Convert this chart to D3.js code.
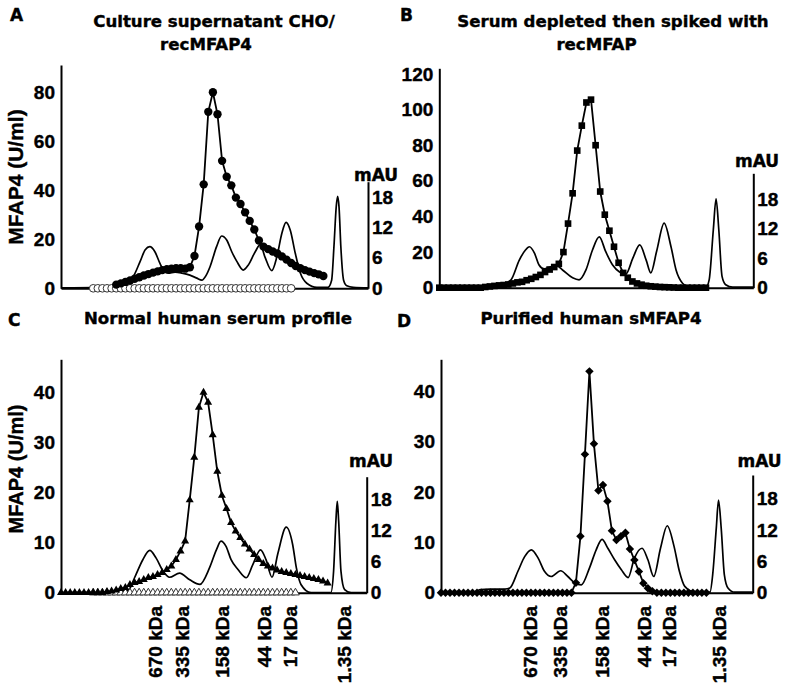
<!DOCTYPE html>
<html><head><meta charset="utf-8">
<script src="https://cdn.jsdelivr.net/npm/d3@7"></script>
<style>
body{margin:0;background:#fff}
svg text{fill:#000;stroke:#000;stroke-width:0.4px}
.ar{font-family:"Liberation Sans",Arial,Helvetica,sans-serif;font-weight:700}
.wd{font-family:"DejaVu Sans",Verdana,sans-serif;font-weight:700}
</style>
</head><body>
<svg id="chart" width="789" height="693"></svg>
<script>
// ---------------- DATA ----------------
// fraction number where each marker series starts (consecutive fractions)
const mfapAStart = 12;
const mfapA = [1.5,2.0,2.6,3.2,3.9,4.5,5.2,5.8,6.4,6.9,7.4,7.8,8.0,8.2,8.2,8.0,8.6,13.2,25.2,42.4,72,80,71,52,45.5,42,37,34.4,31,27.5,24,19.5,17,16,15,14.2,13,11.7,10.3,9.1,8.2,7.4,6.8,6.2,5.7,5.0];
const ctrlAStart = 7;
const ctrlA = [0,0,0,0,0,0,0,0,0,0,0,0,0,0,0,0,0,0,0,0,0,0,0,0,0,0,0,0,0,0,0,0,0,0,0,0,0,0,0,0,0,0,0,0];
const traceA = [[0,0.1],[8.5,0.2],[12.8,0.6],[14.6,1.2],[15.7,2.3],[17.2,5.3],[18.3,7.6],[19.3,8.2],[20.4,7.2],[21.5,4.9],[22.2,3.7],[23.3,3.0],[24.8,3.2],[26.3,3.0],[28.0,2.6],[29.5,2.0],[30.6,1.6],[31.5,2.5],[32.4,4.3],[33.8,8.2],[34.9,10.3],[36.0,9.5],[37.1,7.2],[38.2,5.3],[39.6,3.6],[40.7,4.6],[42.2,7.2],[43.3,8.6],[44.3,6.2],[45.8,3.5],[46.9,6.2],[48.0,10.9],[48.9,13.0],[49.8,11.5],[50.9,6.9],[52.0,3.0],[53.4,1.0],[55.6,0.2],[58.0,0.2],[58.8,1.6],[59.3,8.2],[59.8,16.1],[60.1,18.1],[60.4,16.1],[60.8,8.2],[61.4,1.6],[62.1,0.5],[63.5,0.2],[66.7,0.1]];

const mfapBStart = 0;
const mfapB = [0,0,0,0,0,0,0,0,0,0,0.4,0.7,1.0,1.3,1.5,1.8,2.4,3.0,3.3,4.2,5.0,6.0,7.2,8.8,10.2,11.6,13.4,20,36,53,77,91,104,105.6,80,54,41,32,23,14,8.3,5.6,3.5,2.4,1.7,1.1,0.8,0.6,0.4,0.3,0.2,0.1,0,0,0,0,0,0,0];
const traceB = [[0,0.1],[8.8,0.2],[13.2,0.5],[15.6,1.6],[17.4,5.6],[18.7,7.6],[19.6,8.3],[20.7,7.0],[21.7,4.6],[22.8,3.8],[24.1,4.2],[25.4,4.5],[26.8,3.6],[29.0,2.0],[30.4,1.6],[31.9,3.6],[33.3,7.6],[34.8,10.3],[36.2,7.3],[37.7,4.6],[39.2,3.2],[40.6,2.8],[42.1,6.0],[43.6,8.7],[45.0,5.6],[46.0,3.0],[47.3,7.5],[48.9,13.1],[50.4,8.3],[51.5,3.6],[52.9,0.9],[54.3,0.1],[58.0,0.1],[58.7,1.6],[59.6,11.7],[60.2,18.0],[60.8,11.7],[61.5,2.3],[62.3,0.6],[63.8,0.1],[68.3,0.1]];

const mfapCStart = 0;
const mfapC = [0,0,0,0,0,0,0,0,0,0,0.2,0.3,0.5,0.8,1.0,1.6,2.0,2.2,2.6,3.0,3.2,3.6,4.0,4.6,5.3,6.6,8.3,10.3,18.5,27,37,40,38,31.5,24.2,19.4,16.8,14,12.3,11,9.7,8.7,7.6,6.6,5.8,5.3,4.9,4.5,4.2,4.0,3.8,3.6,3.4,3.2,3.0,2.8,2.6,2.3,1.9];
const ctrlCStart = 7;
const ctrlC = [0,0,0,0,0,0,0,0,0,0,0,0,0,0,0,0,0,0,0,0,0,0,0,0,0,0,0,0,0,0,0,0,0,0,0,0,0,0,0,0,0,0,0,0,0];
const traceC = [[0,0],[12.8,0.1],[14.6,0.4],[16.0,2.9],[17.8,6.4],[19.3,8.2],[20.7,6.7],[22.2,4.2],[23.6,3.0],[25.8,3.8],[28.0,2.5],[30.2,1.6],[32.3,4.8],[33.8,8.3],[34.8,10.0],[35.9,9.0],[37.0,6.4],[38.5,4.5],[40.3,2.9],[41.7,5.4],[43.4,8.3],[44.6,6.4],[45.9,3.0],[47.2,7.7],[49.0,12.7],[50.4,9.3],[51.2,4.8],[52.2,1.6],[54.4,0],[58.7,0],[59.3,4.2],[59.8,13.9],[60.1,17.7],[60.4,13.9],[60.9,4.2],[61.7,0.6],[63.1,0],[66.5,0]];

const mfapDStart = 0;
const mfapD = [0,0,0,0,0,0,0,0,0,0,0,0,0,0,0,0,0,0,0,0,0,0,0,0,0,0,0,0,0,0,2.0,11.2,27.5,44,29.6,20.3,21.4,18.2,12.3,10.5,11.2,11.9,8.7,6.5,4.2,1.9,0.9,0.3,0,0,0,0,0,0,0,0,0,0,0,0];
const traceD = [[0,0],[7.5,0.1],[8.7,0.6],[10.9,0.7],[14.2,0.7],[15.3,0.9],[17.1,4.1],[18.6,6.9],[20.1,8.2],[21.6,6.6],[23.0,4.1],[24.5,3.1],[26.6,4.2],[28.2,3.1],[29.7,1.9],[31.2,1.5],[33.0,4.7],[34.5,8.2],[35.8,10.2],[37.1,8.5],[38.6,6.3],[40.1,4.4],[41.6,2.9],[43.0,6.6],[44.7,8.5],[46.0,6.3],[47.3,3.1],[48.8,8.5],[50.3,12.8],[51.8,8.9],[53.0,4.1],[54.2,1.2],[56.4,0.1],[59.8,0.1],[60.4,3.4],[61.2,12.3],[61.7,17.7],[62.3,12.3],[63.0,3.4],[63.8,0.9],[65.3,0.1],[69.3,0.1]];

// tick labels
const leftTicksA = [0,20,40,60,80];
const leftTicksB = [0,20,40,60,80,100,120];
const leftTicksCD = [0,10,20,30,40];
const rightTicks = [0,6,12,18];
const mwLabels = ["670 kDa","335 kDa","158 kDa","44 kDa","17 kDa","1.35 kDa"];
const mwFracC = [20.4,26.4,35.1,44.2,49.8,61.6];
const mwFracD = [19.9,26.6,35.9,45.2,50.8,61.9];

const titles = {
  A: ["Culture supernatant CHO/","recMFAP4"],
  B: ["Serum depleted then spiked with","recMFAP"],
  C: ["Normal human serum profile"],
  D: ["Purified human sMFAP4"]
};

// ---------------- LAYOUT ----------------
const svg = d3.select("#chart");

const layout = [
  {id:"A", x0:61, x1:368, y0:288.3, yTop:65, yMax:91.1, rTop:181.7, rMax:21.0, fMax:66.7,
   lTicks:leftTicksA, trace:traceA, vals:mfapA, start:mfapAStart, ctrl:ctrlA, ctrlStart:ctrlAStart,
   marker:"circle", letter:[10,21], title:[[214,27],[206,50]], mau:[376,181], ylab:[15.5,177,21]},
  {id:"B", x0:439.3, x1:753.3, y0:287.7, yTop:68.3, yMax:123.2, rTop:173.3, rMax:23.2, fMax:68.3,
   lTicks:leftTicksB, trace:traceB, vals:mfapB, start:mfapBStart,
   marker:"square", letter:[400,21], title:[[613,27],[596.5,50]], mau:[757,166.5]},
  {id:"C", x0:61, x1:366.7, y0:592.7, yTop:359.3, yMax:46.6, rTop:476.7, rMax:22.5, fMax:66.5,
   lTicks:leftTicksCD, trace:traceC, vals:mfapC, start:mfapCStart, ctrl:ctrlC, ctrlStart:ctrlCStart,
   marker:"triangle", letter:[8,326], title:[[218,324]], mau:[371,466.5], ylab:[15.5,469,20], mw:mwFracC},
  {id:"D", x0:441, x1:752.7, y0:592.7, yTop:359.3, yMax:46.4, rTop:475, rMax:22.5, fMax:69.3,
   lTicks:leftTicksCD, trace:traceD, vals:mfapD, start:mfapDStart,
   marker:"diamond", letter:[397,327], title:[[591,324]], mau:[759.5,466.5], mw:mwFracD}
];

function styleAxis(sel){
  sel.attr("font-family", null).attr("font-size", null);
  sel.select(".domain").attr("stroke","#000").attr("stroke-width",2);
  sel.selectAll("text").attr("class","ar").style("font-size","19px").attr("fill","#000");
}

layout.forEach(p => {
  const g = svg.append("g");
  const x = d3.scaleLinear().domain([0, p.fMax]).range([p.x0, p.x1]);
  const yl = d3.scaleLinear().domain([0, p.yMax]).range([p.y0, p.yTop]);
  const yr = d3.scaleLinear().domain([0, p.rMax]).range([p.y0, p.rTop]);

  // axes
  g.append("g").attr("transform",`translate(${p.x0},0)`)
    .call(d3.axisLeft(yl).tickValues(p.lTicks).tickSize(0).tickPadding(6).tickFormat(d3.format("d")))
    .call(styleAxis);
  g.append("g").attr("transform",`translate(${p.x1},0)`)
    .call(d3.axisRight(yr).tickValues(rightTicks).tickSize(0).tickPadding(4).tickFormat(d3.format("d")))
    .call(styleAxis);
  g.append("g").attr("transform",`translate(0,${p.y0})`)
    .call(d3.axisBottom(x).tickValues([]).tickSize(0))
    .call(styleAxis);

  // chromatogram trace (right axis)
  g.append("path").datum(p.trace)
    .attr("fill","none").attr("stroke","#000").attr("stroke-width",1.7)
    .attr("d", d3.line().x(d => x(d[0])).y(d => yr(d[1])).curve(d3.curveMonotoneX));

  const symType = {circle:d3.symbolCircle, square:d3.symbolSquare, triangle:d3.symbolTriangle, diamond:d3.symbolSquare}[p.marker];
  const symSize = {circle:55, square:44, triangle:28, diamond:36}[p.marker];
  const rot = p.marker === "diamond" ? 45 : 0;

  // control (open) markers
  if (p.ctrl) {
    const cd = p.ctrl.map((v,i) => ({f:p.ctrlStart+i, v}));
    g.append("g").selectAll("path").data(cd).join("path")
      .attr("transform", d => `translate(${x(d.f)},${yl(d.v)})`)
      .attr("d", d3.symbol().type(symType).size(p.marker==="circle"?46:26))
      .attr("fill","#fff").attr("stroke","#333").attr("stroke-width",1);
  }

  // MFAP4 series
  const md = p.vals.map((v,i) => ({f:p.start+i, v}));
  g.append("path").datum(md)
    .attr("fill","none").attr("stroke","#000").attr("stroke-width",1.8)
    .attr("d", d3.line().x(d => x(d.f)).y(d => yl(d.v)));
  g.append("g").selectAll("path").data(md).join("path")
    .attr("transform", d => `translate(${x(d.f)},${yl(d.v)}) rotate(${rot})`)
    .attr("d", d3.symbol().type(symType).size(symSize))
    .attr("fill","#000");

  // texts
  svg.append("text").attr("class","wd").attr("x",p.letter[0]).attr("y",p.letter[1])
    .style("font-size","17px").text(p.id);
  titles[p.id].forEach((t,i) => {
    svg.append("text").attr("class","wd").attr("x",p.title[i][0]).attr("y",p.title[i][1])
      .attr("text-anchor","middle").style("font-size","16.6px").text(t);
  });
  svg.append("text").attr("class","wd").attr("x",p.mau[0]).attr("y",p.mau[1]).attr("text-anchor","middle")
    .style("font-size","17px").text("mAU");
  if (p.ylab) {
    svg.append("text").attr("class","ar").attr("transform",`translate(${p.ylab[0]},${p.ylab[1]}) rotate(-90)`)
      .attr("text-anchor","middle").attr("dy","0.36em")
      .style("font-size",p.ylab[2]+"px")
      .text("MFAP4 (U/ml)");
  }
  if (p.mw) {
    p.mw.forEach((f,i) => {
      svg.append("text").attr("class","ar").attr("transform",`translate(${x(f)},606) rotate(-90)`)
        .attr("text-anchor","end").attr("dy","0.36em")
        .style("font-size","19px")
        .text(mwLabels[i]);
    });
  }
});
</script>
</body></html>
